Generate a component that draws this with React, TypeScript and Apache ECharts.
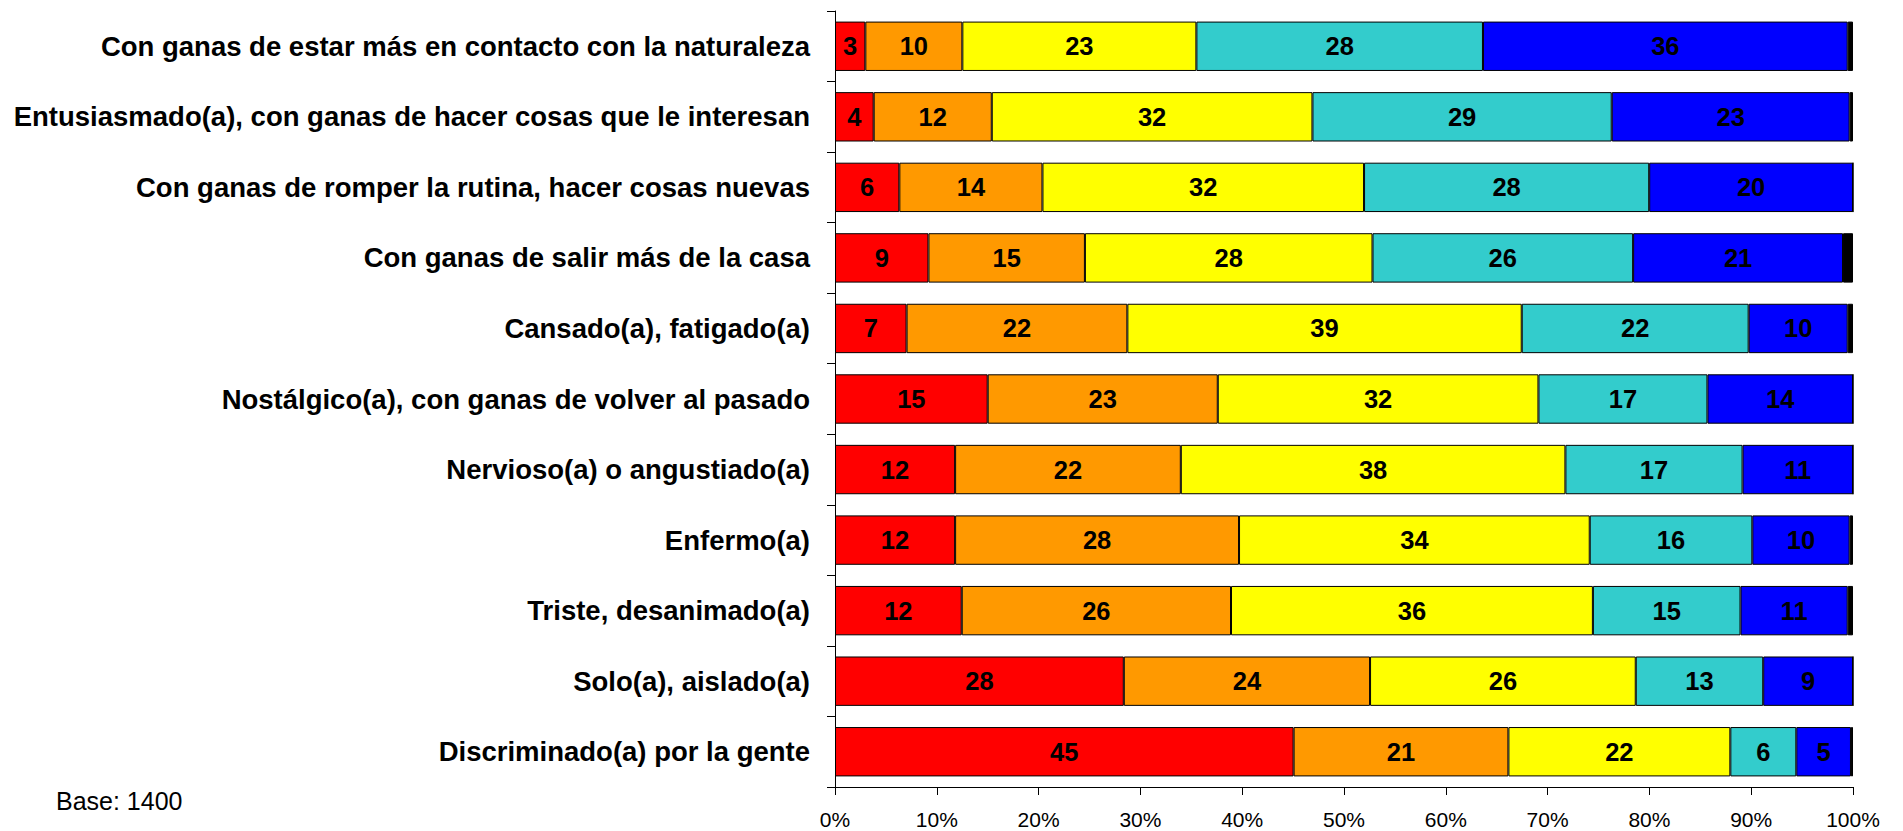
import React, { useEffect, useRef } from "react";
import * as echarts from "echarts";

const categories = [
  "Con ganas de estar más en contacto con la naturaleza",
  "Entusiasmado(a), con ganas de hacer cosas que le interesan",
  "Con ganas de romper la rutina, hacer cosas nuevas",
  "Con ganas de salir más de la casa",
  "Cansado(a), fatigado(a)",
  "Nostálgico(a), con ganas de volver al pasado",
  "Nervioso(a) o angustiado(a)",
  "Enfermo(a)",
  "Triste, desanimado(a)",
  "Solo(a), aislado(a)",
  "Discriminado(a) por la gente",
];

const seriesNames = ["Rojo", "Naranja", "Amarillo", "Turquesa", "Azul", "NS/NR"];
const seriesColors = ["#FF0000", "#FF9900", "#FFFF00", "#33CCCC", "#0000FF", "#000000"];

const redValues = [2.98, 3.8, 6.32, 9.18, 7.03, 15.0, 11.8, 11.8, 12.45, 28.37, 45.05];
const orangeValues = [9.53, 11.6, 14.06, 15.37, 21.69, 22.6, 22.17, 27.89, 26.45, 24.19, 21.1];
const yellowValues = [22.99, 31.5, 31.59, 28.25, 38.74, 31.5, 37.78, 34.45, 35.55, 26.1, 21.8];
const cyanValues = [28.15, 29.4, 28.01, 25.6, 22.29, 16.6, 17.4, 15.97, 14.5, 12.52, 6.48];
const blueValues = [35.83, 23.37, 20.02, 20.62, 9.73, 14.3, 10.85, 9.56, 10.53, 8.82, 5.37];
const blackValues = [0.52, 0.33, 0, 0.98, 0.52, 0, 0, 0.33, 0.52, 0, 0.2];

const xTicks = { min: 0, max: 100, interval: 10 };
const baseText = "Base: 1400";

const FONT = 'Arial, "Liberation Sans", Helvetica, sans-serif';

export default function App() {
  const ref = useRef<HTMLDivElement>(null);

  useEffect(() => {
    if (!ref.current) return;
    const chart = echarts.init(ref.current, null, { renderer: "svg" });
    const allValues = [redValues, orangeValues, yellowValues, cyanValues, blueValues, blackValues];

    const series = allValues.map((vals, i) => ({
      name: seriesNames[i],
      type: "bar",
      stack: "total",
      barCategoryGap: "30%",
      data: vals,
      itemStyle: { color: seriesColors[i], borderColor: "#000000", borderWidth: 1 },
      label: {
        show: i < 5,
        position: "inside",
        color: "#000000",
        fontFamily: FONT,
        fontWeight: "bold",
        fontSize: 25.5,
        formatter: (p: any) => String(Math.round(p.value)),
      },
      emphasis: { disabled: true },
    }));

    chart.setOption({
      animation: false,
      textStyle: { fontFamily: FONT },
      grid: { left: 835, right: 50, top: 11, bottom: 44, containLabel: false },
      xAxis: {
        type: "value",
        min: xTicks.min,
        max: xTicks.max,
        interval: xTicks.interval,
        axisLine: { show: true, lineStyle: { color: "#000000", width: 1 } },
        axisTick: { show: true, length: 8, lineStyle: { color: "#000000" } },
        splitLine: { show: false },
        axisLabel: {
          formatter: "{value}%",
          color: "#000000",
          fontSize: 21,
          fontFamily: FONT,
          margin: 22,
        },
      },
      yAxis: {
        type: "category",
        inverse: true,
        data: categories,
        axisLine: { show: true, lineStyle: { color: "#000000", width: 1 } },
        axisTick: { show: true, length: 8, lineStyle: { color: "#000000" } },
        axisLabel: {
          color: "#000000",
          fontSize: 27.5,
          fontWeight: "bold",
          fontFamily: FONT,
          margin: 25,
        },
      },
      graphic: [
        {
          type: "text",
          left: 56,
          top: 802 - 14,
          style: {
            text: baseText,
            fill: "#000000",
            font: `25px ${FONT}`,
          },
        },
      ],
      series,
    });

    return () => chart.dispose();
  }, []);

  return (
    <div
      ref={ref}
      style={{ position: "fixed", left: 0, top: 0, width: 1903, height: 831, background: "#ffffff" }}
    />
  );
}
